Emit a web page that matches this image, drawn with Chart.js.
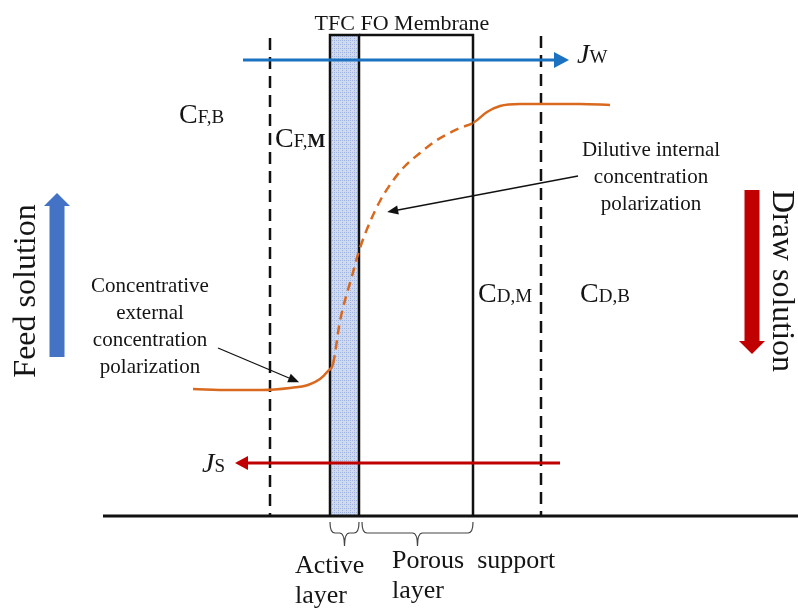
<!DOCTYPE html>
<html>
<head>
<meta charset="utf-8">
<script src="https://cdn.jsdelivr.net/npm/chart.js@4/dist/chart.umd.min.js"></script>
<style>
    html, body { margin: 0; padding: 0; background: #fff; }
    #grafico { display: block; }
</style>
</head>
<body>
<canvas id="grafico" width="798" height="610"></canvas>
<script>
// Perfil de concentração através da membrana FO (esquema)
// x = posição ao longo da célula, y = altura acima da linha de base

// perfil de concentração (alimentação -> camada ativa -> suporte -> extração)
const perfilX = [193, 230, 262, 290, 308, 320, 328, 333, 340, 352, 359, 370, 380, 392, 405, 420, 437, 460, 473, 487, 500, 520, 545, 580, 610];
const perfilY = [127, 126, 126, 128, 131, 137, 145, 152, 195, 240, 265, 294, 315, 334, 350, 363, 376, 388, 393, 404, 410, 412, 412, 412, 411];

// membrana: início da camada ativa, fim da camada ativa, fim do suporte poroso
const membranaX = [330, 359, 473];
const membranaTopo = 481;

// limites das camadas de polarização (tracejado)
const limiteEsqX = 270;
const limiteEsqTopo = 478;
const limiteDirX = 541;
const limiteDirTopo = 480;

// linha de base
const baseX = [103, 798];

// fluxos
const fluxoAguaX = [243, 554];
const fluxoAguaY = 456;
const fluxoSalX = [560, 248];
const fluxoSalY = 53;

// setas grandes das soluções
const setaAlimX = 57;
const setaAlimY = [159, 310];
const setaExtrX = 752;
const setaExtrY = [326, 175];

// setas das anotações
const anotCecX = [218, 289];
const anotCecY = [168, 138];
const anotIcpX = [578, 398];
const anotIcpY = [340, 306];

const FONTE = '"Liberation Serif", "Times New Roman", serif';

function pontos(xs, ys) {
    return xs.map((x, i) => ({ x: x, y: ys[i] }));
}

function linhaVertical(x, topo) {
    return [{ x: x, y: topo }, { x: x, y: 0 }];
}

// padrão pontilhado da camada ativa
function criarPadrao() {
    const c = document.createElement('canvas');
    c.width = 4;
    c.height = 4;
    const g = c.getContext('2d');
    g.fillStyle = '#cfdaf1';
    g.fillRect(0, 0, 4, 4);
    g.fillStyle = '#9fb3df';
    g.fillRect(0, 0, 1, 1);
    g.fillRect(2, 2, 1, 1);
    g.fillRect(2, 0, 1, 1);
    return g.createPattern(c, 'repeat');
}

// textos do esquema (posição em coordenadas dos dados)
const textos = [
    { x: 402, y: 486, align: 'center', partes: [{ t: 'TFC FO Membrane', size: 22 }] },
    { x: 179, y: 393, partes: [{ t: 'C', size: 28 }, { t: 'F,B', size: 19 }] },
    { x: 275, y: 369, partes: [{ t: 'C', size: 28 }, { t: 'F,', size: 19 }, { t: 'M', size: 19, weight: 'bold' }] },
    { x: 478, y: 214, partes: [{ t: 'C', size: 28 }, { t: 'D,M', size: 19 }] },
    { x: 580, y: 214, partes: [{ t: 'C', size: 28 }, { t: 'D,B', size: 19 }] },
    { x: 577, y: 453, partes: [{ t: 'J', size: 28, style: 'italic' }, { t: 'W', size: 19 }] },
    { x: 202, y: 44, partes: [{ t: 'J', size: 28, style: 'italic' }, { t: 'S', size: 19 }] },
    { x: 150, y: 224, align: 'center', partes: [{ t: 'Concentrative', size: 21 }] },
    { x: 150, y: 197, align: 'center', partes: [{ t: 'external', size: 21 }] },
    { x: 150, y: 170, align: 'center', partes: [{ t: 'concentration', size: 21 }] },
    { x: 150, y: 143, align: 'center', partes: [{ t: 'polarization', size: 21 }] },
    { x: 651, y: 360, align: 'center', partes: [{ t: 'Dilutive internal', size: 21 }] },
    { x: 651, y: 333, align: 'center', partes: [{ t: 'concentration', size: 21 }] },
    { x: 651, y: 306, align: 'center', partes: [{ t: 'polarization', size: 21 }] },
    { x: 295, y: -57, partes: [{ t: 'Active', size: 26 }] },
    { x: 295, y: -87, partes: [{ t: 'layer', size: 26 }] },
    { x: 392, y: -52, partes: [{ t: 'Porous  support', size: 26 }] },
    { x: 392, y: -82, partes: [{ t: 'layer', size: 26 }] },
    { x: 35, y: 225, align: 'center', rot: -90, partes: [{ t: 'Feed solution', size: 32 }] },
    { x: 773, y: 235, align: 'center', rot: 90, partes: [{ t: 'Draw solution', size: 32 }] }
];

// chaves abaixo da membrana
const chaves = [
    [membranaX[0], membranaX[1]],
    [membranaX[1] + 3, membranaX[2]]
];

const pluginSetas = {
    id: 'setas',
    afterDatasetsDraw(chart) {
        const ctx = chart.ctx;
        chart.data.datasets.forEach((ds, i) => {
            if (!ds.ponta) return;
            const pts = chart.getDatasetMeta(i).data;
            const a = pts[pts.length - 2];
            const b = pts[pts.length - 1];
            const ang = Math.atan2(b.y - a.y, b.x - a.x);
            const dx = Math.cos(ang), dy = Math.sin(ang);
            const L = ds.ponta.comp, W = ds.ponta.larg / 2;
            ctx.save();
            ctx.fillStyle = ds.borderColor;
            ctx.beginPath();
            ctx.moveTo(b.x + dx * L, b.y + dy * L);
            ctx.lineTo(b.x - dy * W, b.y + dx * W);
            ctx.lineTo(b.x + dy * W, b.y - dx * W);
            ctx.closePath();
            ctx.fill();
            ctx.restore();
        });
    }
};

const pluginTextos = {
    id: 'textos',
    afterDraw(chart) {
        const ctx = chart.ctx;
        const sx = chart.scales.x, sy = chart.scales.y;

        // chaves
        ctx.save();
        ctx.strokeStyle = '#444';
        ctx.lineWidth = 1.2;
        chaves.forEach(([a, b]) => {
            const x0 = sx.getPixelForValue(a), x1 = sx.getPixelForValue(b);
            const xm = (x0 + x1) / 2;
            const y0 = sy.getPixelForValue(-6), y1 = sy.getPixelForValue(-17), y2 = sy.getPixelForValue(-30);
            const r = 5;
            ctx.beginPath();
            ctx.moveTo(x0, y0);
            ctx.quadraticCurveTo(x0, y1, x0 + r, y1);
            ctx.lineTo(xm - r, y1);
            ctx.quadraticCurveTo(xm, y1, xm, y2);
            ctx.quadraticCurveTo(xm, y1, xm + r, y1);
            ctx.lineTo(x1 - r, y1);
            ctx.quadraticCurveTo(x1, y1, x1, y0);
            ctx.stroke();
        });
        ctx.restore();

        textos.forEach(item => {
            ctx.save();
            ctx.fillStyle = '#151515';
            ctx.textBaseline = 'alphabetic';
            ctx.translate(sx.getPixelForValue(item.x), sy.getPixelForValue(item.y));
            if (item.rot) ctx.rotate(item.rot * Math.PI / 180);
            const fonte = p => `${p.style || 'normal'} ${p.weight || 'normal'} ${p.size}px ${FONTE}`;
            let total = 0;
            item.partes.forEach(p => { ctx.font = fonte(p); total += ctx.measureText(p.t).width; });
            let x = item.align === 'center' ? -total / 2 : 0;
            ctx.textAlign = 'left';
            item.partes.forEach(p => {
                ctx.font = fonte(p);
                ctx.fillText(p.t, x, 0);
                x += ctx.measureText(p.t).width;
            });
            ctx.restore();
        });
    }
};

const pretoEstrutura = {
    borderColor: '#111',
    borderWidth: 2.5,
    pointRadius: 0,
    fill: false,
    order: 2
};

new Chart(document.getElementById('grafico').getContext('2d'), {
    type: 'line',
    data: {
        datasets: [
            {
                label: 'Perfil de concentração',
                data: pontos(perfilX, perfilY),
                borderColor: '#d9691e',
                borderWidth: 2.5,
                pointRadius: 0,
                cubicInterpolationMode: 'monotone',
                fill: false,
                order: 0,
                segment: {
                    borderDash: c => (c.p0.parsed.x >= 333 && c.p1.parsed.x <= membranaX[2]) ? [9, 6] : undefined
                }
            },
            {
                label: 'Jw',
                data: fluxoAguaX.map(x => ({ x: x, y: fluxoAguaY })),
                borderColor: '#1b72c0',
                borderWidth: 2.8,
                pointRadius: 0,
                order: 1,
                ponta: { comp: 15, larg: 16 }
            },
            {
                label: 'Js',
                data: fluxoSalX.map(x => ({ x: x, y: fluxoSalY })),
                borderColor: '#c00000',
                borderWidth: 2.8,
                pointRadius: 0,
                order: 1,
                ponta: { comp: 13, larg: 14 }
            },
            {
                label: 'Feed solution',
                data: setaAlimY.map(y => ({ x: setaAlimX, y: y })),
                borderColor: '#4472c4',
                borderWidth: 15,
                borderCapStyle: 'butt',
                pointRadius: 0,
                order: 1,
                ponta: { comp: 13, larg: 26 }
            },
            {
                label: 'Draw solution',
                data: setaExtrY.map(y => ({ x: setaExtrX, y: y })),
                borderColor: '#c00000',
                borderWidth: 15,
                borderCapStyle: 'butt',
                pointRadius: 0,
                order: 1,
                ponta: { comp: 13, larg: 26 }
            },
            {
                label: 'Anotação CECP',
                data: pontos(anotCecX, anotCecY),
                borderColor: '#111',
                borderWidth: 1.3,
                pointRadius: 0,
                order: 1,
                ponta: { comp: 11, larg: 9 }
            },
            {
                label: 'Anotação DICP',
                data: pontos(anotIcpX, anotIcpY),
                borderColor: '#111',
                borderWidth: 1.3,
                pointRadius: 0,
                order: 1,
                ponta: { comp: 11, larg: 9 }
            },
            Object.assign({}, pretoEstrutura, {
                label: 'Suporte poroso',
                data: [
                    { x: membranaX[1], y: membranaTopo },
                    { x: membranaX[2], y: membranaTopo },
                    { x: membranaX[2], y: 0 }
                ]
            }),
            Object.assign({}, pretoEstrutura, {
                label: 'Limite esquerdo',
                data: linhaVertical(limiteEsqX, limiteEsqTopo),
                borderDash: [12, 7]
            }),
            Object.assign({}, pretoEstrutura, {
                label: 'Limite direito',
                data: linhaVertical(limiteDirX, limiteDirTopo),
                borderDash: [12, 7]
            }),
            Object.assign({}, pretoEstrutura, {
                label: 'Base',
                data: baseX.map(x => ({ x: x, y: 0 })),
                borderWidth: 2.8
            }),
            Object.assign({}, pretoEstrutura, {
                label: 'Camada ativa',
                data: [
                    { x: membranaX[0], y: 0 },
                    { x: membranaX[0], y: membranaTopo },
                    { x: membranaX[1], y: membranaTopo },
                    { x: membranaX[1], y: 0 }
                ],
                backgroundColor: criarPadrao(),
                fill: 'origin',
                order: 3
            })
        ]
    },
    options: {
        responsive: false,
        animation: false,
        events: [],
        layout: { padding: 0 },
        plugins: {
            legend: { display: false },
            tooltip: { enabled: false }
        },
        scales: {
            x: { type: 'linear', min: 0, max: 798, display: false },
            y: { type: 'linear', min: -94, max: 516, display: false }
        }
    },
    plugins: [pluginSetas, pluginTextos]
});
</script>
</body>
</html>
